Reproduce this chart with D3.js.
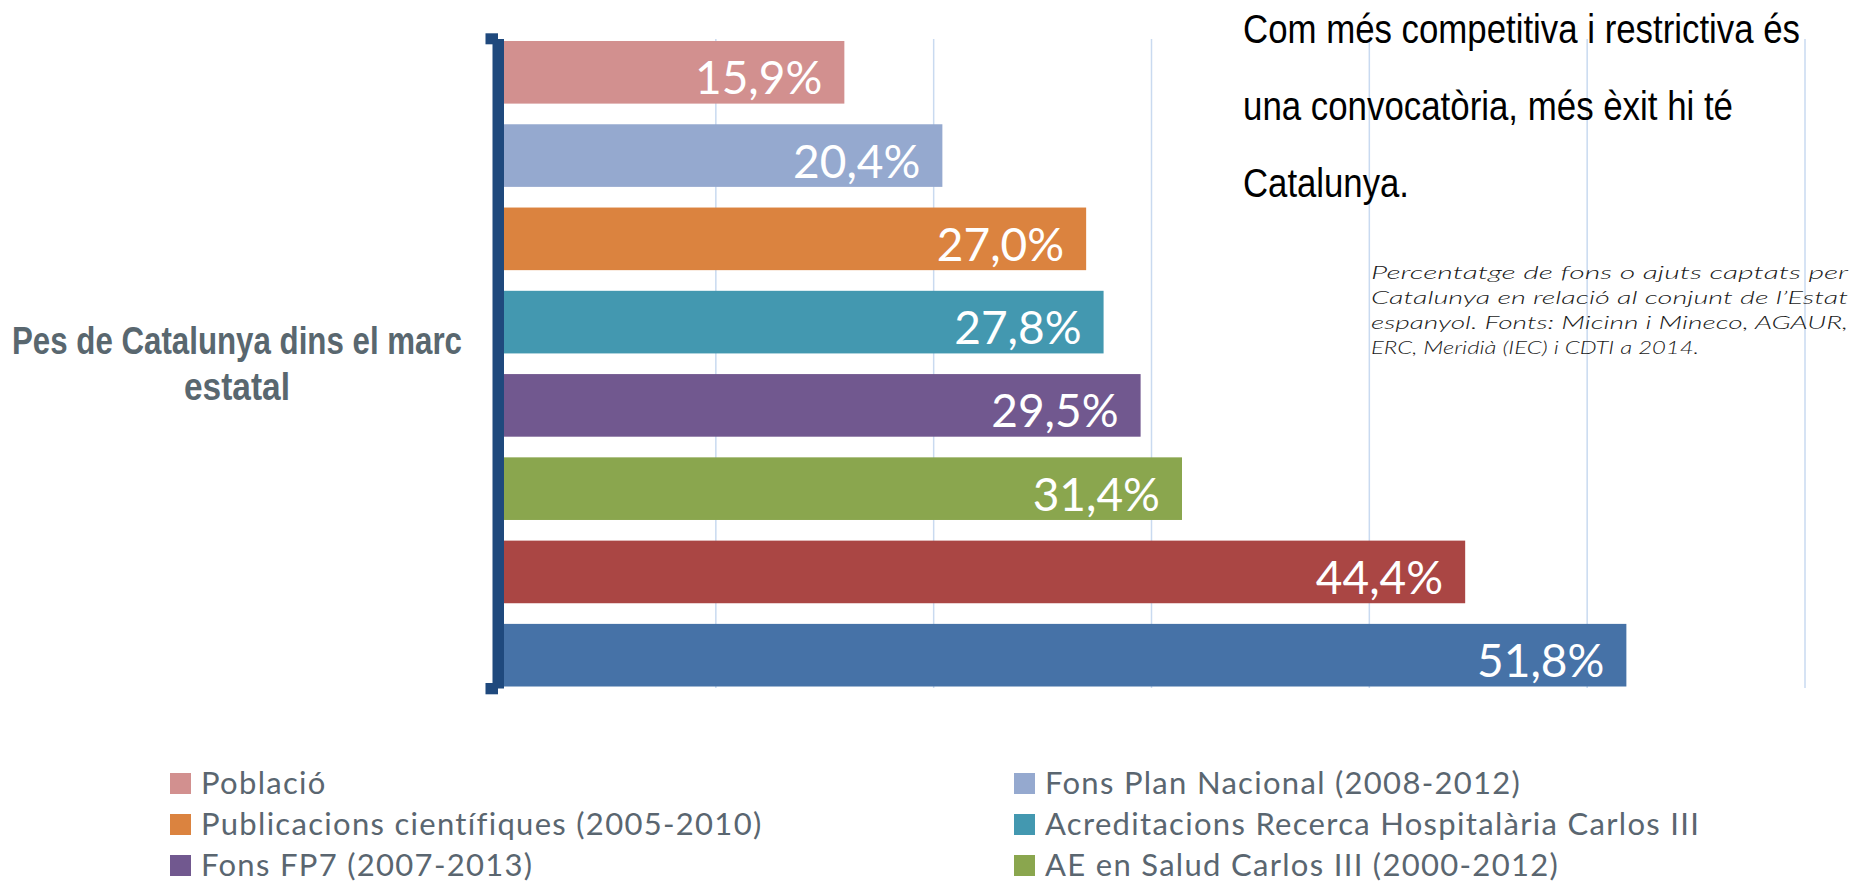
<!DOCTYPE html>
<html>
<head>
<meta charset="utf-8">
<script src="https://cdn.jsdelivr.net/npm/d3@7"></script>
<style>
  body { margin: 0; background: #fff; }
  svg { display: block; }
</style>
</head>
<body>
<svg width="1853" height="883"></svg>
<script>
// data
const values = [15.9, 20.4, 27.0, 27.8, 29.5, 31.4, 44.4, 51.8];
const colors = ["#d2908f", "#95a9cf", "#db833f", "#4398b0", "#71588f", "#8aa64e", "#aa4644", "#4672a7"];
const legendNames = [
  "Població",
  "Fons Plan Nacional (2008-2012)",
  "Publicacions científiques (2005-2010)",
  "Acreditacions Recerca Hospitalària Carlos III",
  "Fons FP7 (2007-2013)",
  "AE en Salud Carlos III (2000-2012)"
];
const xTicks = [10, 20, 30, 40, 50, 60];
const titleLines = ["Pes de Catalunya dins el marc", "estatal"];
const noteLines = ["Com més competitiva i restrictiva és", "una convocatòria, més èxit hi té", "Catalunya."];
const captionLines = [
  "Percentatge de fons o ajuts captats per",
  "Catalunya en relació al conjunt de l’Estat",
  "espanyol. Fonts: Micinn i Mineco, AGAUR,",
  "ERC, Meridià (IEC) i CDTI a 2014."
];

const svg = d3.select("svg");
const fmt = v => d3.format(".1f")(v).replace(".", ",") + "%";

const x = d3.scaleLinear().domain([0, 60]).range([498, 1805]);
const y = d3.scaleBand()
  .domain(d3.range(values.length))
  .range([30.5, 697])
  .paddingInner(0.248)
  .paddingOuter(0.126);

// gridlines
svg.append("g")
  .selectAll("line")
  .data(xTicks)
  .join("line")
  .attr("x1", d => x(d)).attr("x2", d => x(d))
  .attr("y1", 39).attr("y2", 688)
  .attr("stroke", "#c9daf0")
  .attr("stroke-width", 1.5);

// bars
svg.append("g")
  .selectAll("rect")
  .data(values)
  .join("rect")
  .attr("x", x(0))
  .attr("y", (d, i) => y(i))
  .attr("width", d => x(d) - x(0))
  .attr("height", y.bandwidth())
  .attr("fill", (d, i) => colors[i]);

// value labels
svg.append("g")
  .selectAll("text")
  .data(values)
  .join("text")
  .attr("x", d => x(d) - 22)
  .attr("y", (d, i) => y(i) + y.bandwidth() / 2 + 22)
  .attr("text-anchor", "end")
  .attr("font-family", "Lato, 'Open Sans', sans-serif")
  .attr("font-size", 46)
  .attr("fill", "#fff")
  .text(fmt);

// axis bracket
const axisCol = "#1f497d";
svg.append("rect").attr("x", 492.5).attr("y", 39).attr("width", 11.5).attr("height", 649.5).attr("fill", axisCol);
svg.append("rect").attr("x", 485.5).attr("y", 33.3).attr("width", 12.5).attr("height", 11).attr("fill", axisCol);
svg.append("rect").attr("x", 485.5).attr("y", 683).attr("width", 12.5).attr("height", 11.3).attr("fill", axisCol);

// left title
const titleWidths = [450, 106];
svg.append("g")
  .selectAll("text")
  .data(titleLines)
  .join("text")
  .attr("x", 237)
  .attr("y", (d, i) => 354 + i * 46)
  .attr("text-anchor", "middle")
  .attr("font-family", "'Liberation Sans Narrow', 'Liberation Sans', Arial, sans-serif")
  .attr("font-weight", "bold")
  .attr("font-size", 38)
  .attr("fill", "#59676f")
  .attr("textLength", (d, i) => titleWidths[i])
  .attr("lengthAdjust", "spacingAndGlyphs")
  .text(d => d);

// note top right
const noteWidths = [557, 490, 166];
svg.append("g")
  .selectAll("text")
  .data(noteLines)
  .join("text")
  .attr("x", 1243)
  .attr("y", (d, i) => 43 + i * 77)
  .attr("font-family", "'Liberation Sans Narrow', 'Liberation Sans', Arial, sans-serif")
  .attr("font-size", 40)
  .attr("fill", "#000")
  .attr("textLength", (d, i) => noteWidths[i])
  .attr("lengthAdjust", "spacingAndGlyphs")
  .text(d => d);

// caption (justified)
const captionWidths = [477, 477, 477, 328];
svg.append("g")
  .selectAll("text")
  .data(captionLines)
  .join("text")
  .attr("x", 1371)
  .attr("y", (d, i) => 278.5 + i * 25.3)
  .attr("font-family", "Lato, 'Open Sans', sans-serif")
  .attr("font-style", "italic")
  .attr("font-weight", 300)
  .attr("font-size", 18.5)
  .attr("fill", "#1a1a1a")
  .attr("textLength", (d, i) => captionWidths[i])
  .attr("lengthAdjust", "spacingAndGlyphs")
  .text(d => d);

// legend, two columns
const legendCols = [170, 1014];
const legend = svg.append("g")
  .selectAll("g")
  .data(legendNames)
  .join("g")
  .attr("transform", (d, i) => `translate(${legendCols[i % 2]},${773 + Math.floor(i / 2) * 41})`);
legend.append("rect")
  .attr("width", 21).attr("height", 21)
  .attr("fill", (d, i) => colors[i]);
legend.append("text")
  .attr("x", 31)
  .attr("y", 21)
  .attr("font-family", "Lato, 'Open Sans', sans-serif")
  .attr("font-size", 31)
  .attr("letter-spacing", 1.3)
  .attr("fill", "#5a6670")
  .text(d => d);
</script>
</body>
</html>
